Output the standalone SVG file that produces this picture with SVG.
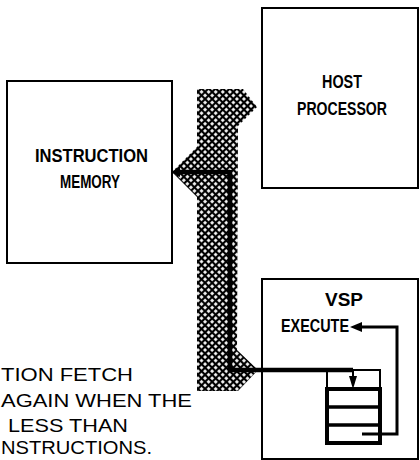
<svg xmlns="http://www.w3.org/2000/svg" width="420" height="460" viewBox="0 0 420 460">
<style>
.box{fill:none;stroke:#000;stroke-width:2}
.lbl{font-family:"Liberation Sans",Arial,sans-serif;font-weight:bold;font-size:18px;fill:#000}
.note{font-family:"Liberation Sans",Arial,sans-serif;font-size:18px;fill:#000}
.wire{fill:none;stroke:#000;stroke-width:4.5;stroke-linejoin:miter}
.fb{fill:none;stroke:#000;stroke-width:3}
</style>
<defs>
<pattern id="hatch" width="5" height="5" patternUnits="userSpaceOnUse" patternTransform="rotate(45)">
<rect width="5" height="5" fill="#000"/>
<rect x="1.1" y="1.1" width="2.8" height="2.8" fill="#fff"/>
</pattern>
</defs>

<g id="bus">
<path d="M197,89 L243,89 L257,107 L238,126 L237,350 L258,370 L238,391 L197,391 L197,197 L172,172 L197,147 Z" fill="url(#hatch)"/>
</g>

<g id="instruction-memory">
<rect class="box" x="7" y="81" width="165" height="182"/>
<text class="lbl" x="35" y="162" textLength="113" lengthAdjust="spacingAndGlyphs">INSTRUCTION</text>
<text class="lbl" x="60" y="188" textLength="60" lengthAdjust="spacingAndGlyphs">MEMORY</text>
</g>

<g id="host-processor">
<rect class="box" x="262" y="8" width="156" height="180"/>
<text class="lbl" x="322" y="88" textLength="40" lengthAdjust="spacingAndGlyphs">HOST</text>
<text class="lbl" x="297" y="115" textLength="90" lengthAdjust="spacingAndGlyphs">PROCESSOR</text>
</g>

<g id="vsp">
<rect class="box" x="262" y="279" width="156" height="180"/>
<text class="lbl" x="325" y="306" font-size="19" textLength="38" lengthAdjust="spacingAndGlyphs">VSP</text>
<text class="lbl" x="281" y="332" font-size="16" textLength="68" lengthAdjust="spacingAndGlyphs">EXECUTE</text>
</g>

<g id="queue">
<rect x="327" y="370" width="53" height="20" fill="none" stroke="#000" stroke-width="2"/>
<rect x="327" y="389" width="53" height="54" fill="none" stroke="#000" stroke-width="4"/>
<line x1="327" y1="407" x2="380" y2="407" stroke="#000" stroke-width="3.5"/>
<line x1="327" y1="425" x2="380" y2="425" stroke="#000" stroke-width="3.5"/>
</g>

<g id="connectors">
<path class="wire" d="M230,172 L175,172"/>
<path d="M171,172 L180,167 L180,177 Z" fill="#000"/>
<path class="wire" d="M230,170 L230,370 L353,370"/>
<line x1="353" y1="370" x2="353" y2="378" stroke="#000" stroke-width="2"/>
<path d="M349,376 L357,376 L353,389 Z" fill="#000"/>
<path class="fb" d="M362,434 L397,434 L397,327 L360,327"/>
<path d="M350,327 L362,322 L362,332 Z" fill="#000"/>
</g>

<g id="caption">
<text class="note" x="1" y="381" textLength="132" lengthAdjust="spacingAndGlyphs">TION FETCH</text>
<text class="note" x="1" y="407" textLength="191" lengthAdjust="spacingAndGlyphs">AGAIN WHEN THE</text>
<text class="note" x="8" y="432" textLength="120" lengthAdjust="spacingAndGlyphs">LESS THAN</text>
<text class="note" x="1" y="454" textLength="151" lengthAdjust="spacingAndGlyphs">NSTRUCTIONS.</text>
</g>
</svg>
